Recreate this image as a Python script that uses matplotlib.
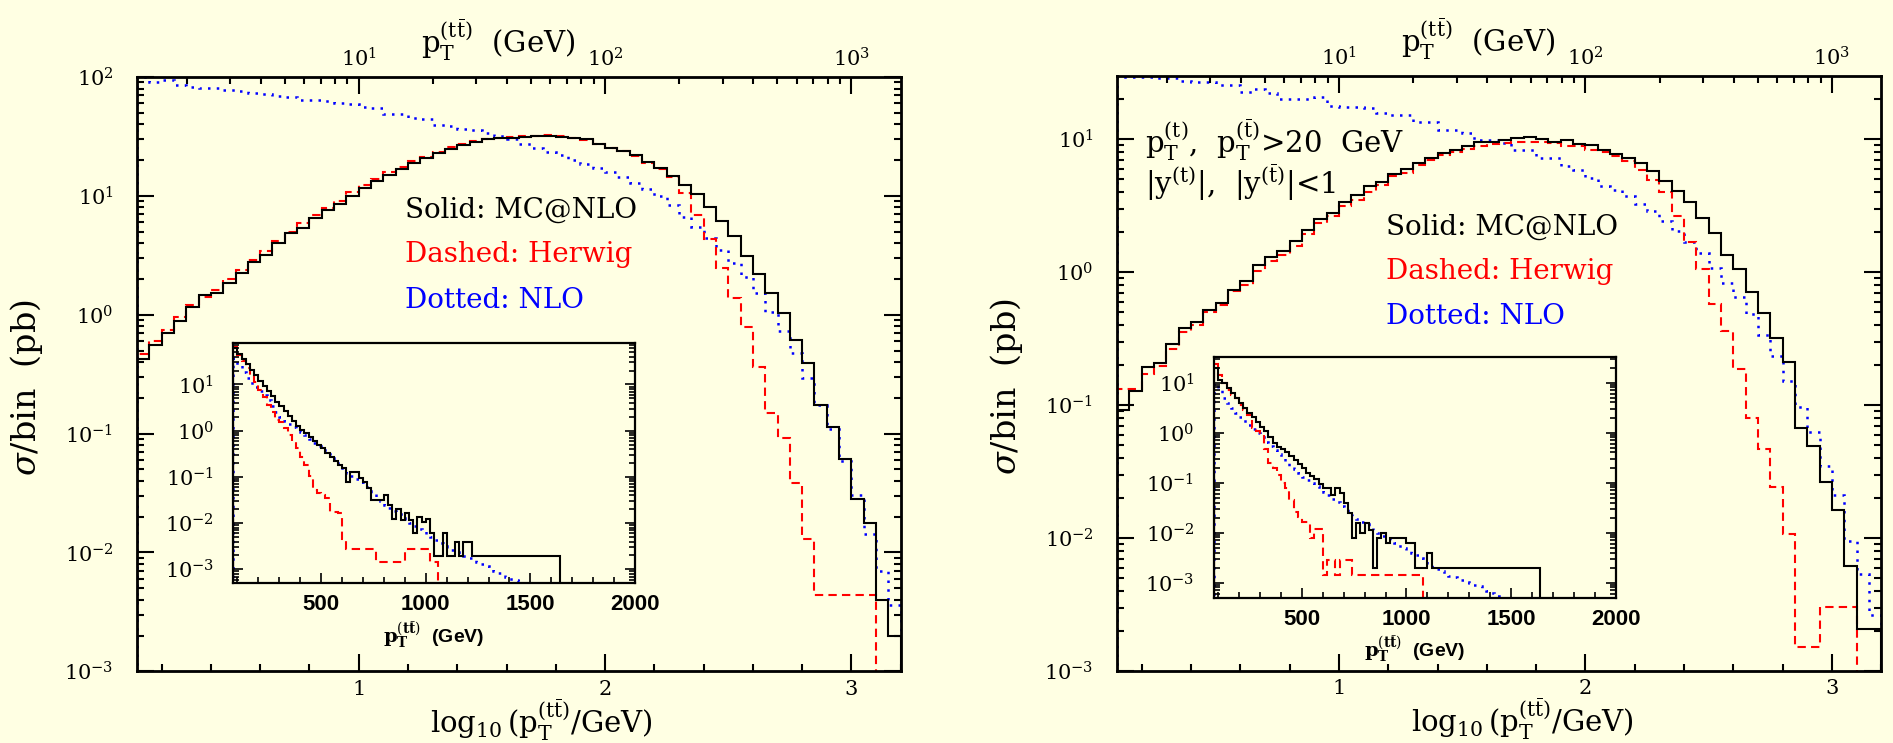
import numpy as np
import matplotlib
matplotlib.use('Agg')
import matplotlib.pyplot as plt
from matplotlib.ticker import MultipleLocator, FixedLocator, FuncFormatter

# ---- data: log10(sigma/bin [pb]) in bins of 0.05 in log10(pT), starting at 0.10 ----
main_lo, main_w = 0.10, 0.05

left_mcnlo = [-0.374, -0.254, -0.150, -0.050, 0.063, 0.164, 0.181, 0.270, 0.349, 0.441,
              0.503, 0.606, 0.685, 0.733, 0.812, 0.881, 0.932, 1.002, 1.064, 1.125,
              1.176, 1.224, 1.274, 1.316, 1.358, 1.394, 1.426, 1.456, 1.476, 1.485,
              1.490, 1.495, 1.500, 1.505, 1.495, 1.485, 1.476, 1.437, 1.406, 1.378,
              1.341, 1.288, 1.237, 1.170, 1.089, 1.013, 0.904, 0.789, 0.663, 0.494,
              0.343, 0.186, 0.013, -0.212, -0.408, -0.756, -0.944, -1.210, -1.549, -1.751,
              -2.401, -2.704]
left_herwig = [-0.33, -0.22, -0.13, -0.02, 0.08, 0.15, 0.21, 0.30, 0.38, 0.46,
               0.54, 0.62, 0.70, 0.77, 0.84, 0.90, 0.96, 1.03, 1.09, 1.14,
               1.20, 1.245, 1.29, 1.33, 1.37, 1.41, 1.44, 1.465, 1.48, 1.49,
               1.495, 1.50, 1.505, 1.51, 1.505, 1.49, 1.47, 1.435, 1.40, 1.375,
               1.335, 1.28, 1.23, 1.16, 1.021, 0.839, 0.635, 0.396, 0.139, -0.105,
               -0.439, -0.826, -1.036, -1.415, -1.886, -2.354, -2.354, -2.354, -2.354, -2.354]
left_nlo = [2.00, 1.96, 1.975, 1.935, 1.915, 1.91, 1.905, 1.89, 1.885, 1.865,
            1.86, 1.84, 1.835, 1.81, 1.805, 1.80, 1.78, 1.775, 1.745, 1.74,
            1.69, 1.685, 1.655, 1.65, 1.60, 1.59, 1.56, 1.55, 1.53, 1.50,
            1.475, 1.44, 1.40, 1.372, 1.34, 1.30, 1.27, 1.232, 1.20, 1.161,
            1.106, 1.06, 1.00, 0.923, 0.825, 0.741, 0.643, 0.545, 0.433, 0.321,
            0.181, 0.026, -0.136, -0.321, -0.532, -0.756, -0.960, -1.232, -1.513, -1.841,
            -2.152, -2.446]

right_mcnlo = [-1.036, -0.893, -0.713, -0.680, -0.538, -0.418, -0.373, -0.286, -0.236, -0.131,
               -0.068, 0.052, 0.112, 0.157, 0.237, 0.320, 0.402, 0.445, 0.524, 0.577,
               0.644, 0.677, 0.740, 0.775, 0.820, 0.857, 0.895, 0.920, 0.952, 0.975,
               0.982, 0.990, 1.007, 1.015, 1.000, 0.982, 0.990, 0.965, 0.957, 0.915,
               0.887, 0.857, 0.820, 0.757, 0.682, 0.607, 0.527, 0.407, 0.295, 0.132,
               0.025, -0.150, -0.305, -0.493, -0.678, -1.173, -1.311, -1.578, -1.786, -2.211,
               -2.683, -2.683]
right_herwig = [-0.88, -0.88, -0.77, -0.705, -0.58, -0.45, -0.40, -0.30, -0.25, -0.14,
                -0.10, 0.01, 0.08, 0.13, 0.20, 0.29, 0.37, 0.42, 0.495, 0.545,
                0.60, 0.657, 0.72, 0.745, 0.807, 0.845, 0.882, 0.907, 0.925, 0.952,
                0.965, 0.97, 0.975, 0.977, 0.975, 0.97, 0.95, 0.945, 0.92, 0.90,
                0.875, 0.832, 0.77, 0.695, 0.60, 0.425, 0.225, 0.025, -0.243, -0.443,
                -0.726, -1.098, -1.328, -1.616, -1.973, -2.816, -2.816, -2.521, -2.521, -2.521]
right_nlo = [1.47, 1.47, 1.465, 1.46, 1.457, 1.44, 1.432, 1.43, 1.41, 1.407,
             1.357, 1.375, 1.345, 1.30, 1.30, 1.30, 1.32, 1.25, 1.24, 1.24,
             1.235, 1.20, 1.18, 1.18, 1.13, 1.13, 1.07, 1.07, 1.045, 0.995,
             0.995, 0.97, 0.92, 0.92, 0.857, 0.857, 0.795, 0.77, 0.707, 0.645,
             0.62, 0.57, 0.515, 0.457, 0.382, 0.312, 0.225, 0.145, 0.032, -0.08,
             -0.188, -0.318, -0.475, -0.63, -0.816, -1.016, -1.203, -1.461, -1.678, -2.023,
             -2.273, -2.578]

# ---- insets: log10(sigma/bin) in 20 GeV bins of pT starting at 80 GeV ----
ins_lo, ins_w = 80, 20

left_ins_mcnlo = [1.78, 1.66, 1.56, 1.45, 1.32, 1.20, 1.07, 0.96, 0.85, 0.74,
                  0.63, 0.53, 0.42, 0.31, 0.20, 0.11, 0.02, -0.06, -0.14, -0.22,
                  -0.30, -0.38, -0.48, -0.56, -0.66, -0.74, -0.80, -1.10, -0.90, -0.90,
                  -1.03, -1.12, -1.25, -1.50, -1.50, -1.50, -1.39, -1.61, -1.92, -1.70,
                  -1.93, -1.79, -1.93, -2.22, -1.86, -1.97, -1.92, -2.22, -2.70, -2.70,
                  -2.22, -2.70, -2.70, -2.41, -2.70, -2.41, -2.41, -2.70, -2.70, -2.70,
                  -2.70, -2.70, -2.70, -2.70, -2.70, -2.70, -2.70, -2.70, -2.70, -2.70,
                  -2.70, -2.70, -2.70, -2.70, -2.70, -2.70, -2.70, -2.70]
left_ins_herwig = [1.80, 1.64, 1.50, 1.36, 1.20, 1.05, 0.88, 0.72, 0.55, 0.40,
                   0.24, 0.18, 0.05, -0.10, -0.25, -0.38, -0.56, -0.74, -0.99, -1.28,
                   -1.35, -1.39, -1.46, -1.75, -1.75, -1.79, -2.35, -2.55, -2.55, -2.55,
                   -2.55, -2.55, -2.55, -2.55, -2.84, -2.84, -2.84, -2.84, -2.84, -2.84,
                   -2.84, -2.55, -2.55, -2.55, -2.55, -2.55, -2.55, -2.84, -2.84]
left_ins_nlo = [1.58, 1.42, 1.28, 1.15, 1.04, 0.94, 0.86, 0.78, 0.66, 0.54,
                0.41, 0.29, 0.21, 0.15, 0.09, 0.03, -0.02, -0.10, -0.18, -0.26,
                -0.33, -0.41, -0.50, -0.60, -0.69, -0.76, -0.84, -0.91, -0.97, -1.05,
                -1.12, -1.22, -1.30, -1.37, -1.45, -1.53, -1.60, -1.67, -1.74, -1.81,
                -1.88, -1.94, -2.00, -2.06, -2.12, -2.18, -2.24, -2.30, -2.37, -2.44,
                -2.50, -2.55, -2.59, -2.63, -2.66, -2.70, -2.75, -2.80, -2.84, -2.88,
                -2.93, -2.98, -3.03, -3.08, -3.13, -3.17, -3.20, -3.23, -3.26, -3.29, -3.32]

right_ins_mcnlo = [1.30, 1.05, 1.00, 0.90, 0.80, 0.70, 0.59, 0.49, 0.40, 0.31,
                   0.22, 0.12, 0.04, -0.08, -0.20, -0.29, -0.33, -0.38, -0.47, -0.55,
                   -0.63, -0.70, -0.80, -0.86, -0.93, -1.02, -1.11, -1.11, -1.25, -1.11,
                   -1.21, -1.41, -1.61, -2.11, -1.81, -2.01, -1.81, -1.94, -2.71, -2.11,
                   -2.01, -2.21, -2.11, -2.11, -2.11, -2.11, -2.21, -2.21, -2.71, -2.71,
                   -2.71, -2.40, -2.71, -2.71, -2.71, -2.71, -2.71, -2.71, -2.71, -2.71,
                   -2.71, -2.71, -2.71, -2.71, -2.71, -2.71, -2.71, -2.71, -2.71, -2.71,
                   -2.71, -2.71, -2.71, -2.71, -2.71, -2.71, -2.71, -2.71]
right_ins_herwig = [1.38, 1.15, 1.00, 0.85, 0.76, 0.70, 0.55, 0.45, 0.36, 0.10,
                    0.04, -0.05, -0.32, -0.61, -0.71, -0.85, -1.00, -1.10, -1.35, -1.58,
                    -1.68, -1.78, -1.78, -2.11, -1.93, -1.93, -2.84, -2.54, -2.54, -2.84,
                    -2.54, -2.54, -2.54, -2.84, -2.84, -2.84, -2.84, -2.84, -2.84, -2.84,
                    -2.84, -2.84, -2.84, -2.84, -2.84, -2.84, -2.84, -2.84, -2.84, -2.84]
right_ins_nlo = [1.00, 0.88, 0.69, 0.59, 0.50, 0.40, 0.32, 0.24, 0.15, 0.08,
                 0.00, -0.09, -0.18, -0.27, -0.35, -0.43, -0.51, -0.58, -0.66, -0.73,
                 -0.80, -0.88, -0.94, -1.00, -1.06, -1.13, -1.19, -1.25, -1.32, -1.39,
                 -1.46, -1.53, -1.60, -1.66, -1.72, -1.78, -1.83, -1.89, -1.95, -2.00,
                 -2.06, -2.11, -2.16, -2.21, -2.27, -2.30, -2.35, -2.40, -2.45, -2.50,
                 -2.56, -2.62, -2.68, -2.73, -2.77, -2.82, -2.86, -2.89, -2.92, -2.95,
                 -2.98, -3.01, -3.04, -3.07, -3.11, -3.16, -3.21, -3.26, -3.30, -3.34, -3.37]

labels = ['Solid: MC@NLO', 'Dashed: Herwig', 'Dotted: NLO']
label_colors = ['black', 'red', 'blue']

W, H = 1893, 743
BG = '#ffffe3'
plt.rcParams['font.family'] = 'DejaVu Serif'
plt.rcParams['mathtext.fontset'] = 'dejavuserif'

SOLID = dict(edgecolor='black', linewidth=1.5)
DASH = dict(edgecolor='red', linewidth=1.5, linestyle=(0, (4, 2.5)))
DOT = dict(edgecolor='blue', linewidth=1.8, linestyle=(0, (1, 2.5)))

PT = r'\mathrm{p}_\mathrm{T}^{(\mathrm{t}\bar{\mathrm{t}})}'


def box(x0, y0, x1, y1):
    return [x0 / W, 1 - y1 / H, (x1 - x0) / W, (y1 - y0) / H]


def hist(ax, lo, width, logvals, style):
    edges = lo + width * np.arange(len(logvals) + 1)
    ax.stairs(10.0 ** np.array(logvals), edges, baseline=1e-9, **style)


fig = plt.figure(figsize=(W / 100, H / 100), dpi=100, facecolor=BG)


def panel(mbox, ibox, ytop, iytop, blk, red, blu, iblk, ired, iblu, leg_xy):
    ax = fig.add_axes(box(*mbox))
    ax.set_facecolor(BG)
    hist(ax, main_lo, main_w, blu, DOT)
    hist(ax, main_lo, main_w, red, DASH)
    hist(ax, main_lo, main_w, blk, SOLID)
    ax.set_yscale('log')
    ax.set_xlim(0.1, 3.2)
    ax.set_ylim(1e-3, ytop)
    ax.xaxis.set_major_locator(MultipleLocator(1))
    ax.xaxis.set_minor_locator(MultipleLocator(0.2))
    ax.xaxis.set_major_formatter(FuncFormatter(lambda v, p: '%d' % v))
    ax.tick_params(which='both', direction='in', top=False, right=True, width=1.5, labelsize=15)
    ax.tick_params(which='major', length=12)
    ax.tick_params(which='minor', length=5)
    ax.tick_params(axis='y', pad=17)
    ax.tick_params(axis='x', pad=6)
    for s in ax.spines.values():
        s.set_linewidth(2)
    ax.set_xlabel(r'$\log_{10}(' + PT + r'/\mathrm{GeV})$', fontsize=21, va='bottom')
    ax.xaxis.set_label_coords(0.53, -0.12)
    ax.set_ylabel(r'$\sigma$/bin  (pb)', fontsize=24)
    ax.yaxis.set_label_coords(-0.12, 0.478)

    top = ax.twiny()
    top.set_xscale('log')
    top.set_xlim(10 ** 0.1, 10 ** 3.2)
    top.tick_params(which='both', direction='in', width=1.5, labelsize=15, pad=5)
    top.tick_params(which='major', length=12)
    top.tick_params(which='minor', length=5)
    top.set_xlabel('$' + PT + r'$  (GeV)', fontsize=21)
    top.xaxis.set_label_coords(0.473, 1.04)

    lx, ly = leg_xy
    for i, (t, c) in enumerate(zip(labels, label_colors)):
        fig.text(lx / W, 1 - (ly + 45 * i) / H, t, color=c, fontsize=20, va='center')

    ins = fig.add_axes(box(*ibox))
    ins.set_facecolor(BG)
    hist(ins, ins_lo, ins_w, iblu, DOT)
    hist(ins, ins_lo, ins_w, ired, DASH)
    hist(ins, ins_lo, ins_w, iblk, SOLID)
    ins.set_yscale('log')
    ins.set_xlim(80, 2000)
    ins.set_ylim(5e-4, iytop)
    ins.xaxis.set_major_locator(FixedLocator([500, 1000, 1500, 2000]))
    ins.xaxis.set_minor_locator(MultipleLocator(100))
    ins.tick_params(which='both', direction='in', right=True, top=False, width=1.2)
    ins.tick_params(which='major', length=7)
    ins.tick_params(which='minor', length=4)
    ins.tick_params(axis='y', labelsize=15, pad=14)
    ins.tick_params(axis='x', labelsize=16, pad=8, labelfontfamily='Liberation Sans')
    plt.setp(ins.get_xticklabels(), fontweight='bold')
    for s in ins.spines.values():
        s.set_linewidth(1.6)
    ins.set_xlabel(r'$\mathbf{p}_\mathbf{T}^{(\mathbf{t}\bar{\mathbf{t}})}$  (GeV)', fontsize=14,
                   fontweight='bold', family='Liberation Sans', labelpad=3)
    return ax


panel((137, 77, 900.7, 671.3), (233.3, 342.7, 635, 583.3), 100, 80,
      left_mcnlo, left_herwig, left_nlo,
      left_ins_mcnlo, left_ins_herwig, left_ins_nlo, (405, 210))
panel((1117, 76, 1881.3, 671), (1214, 357.3, 1615.7, 597.7), 10 ** 1.475, 32,
      right_mcnlo, right_herwig, right_nlo,
      right_ins_mcnlo, right_ins_herwig, right_ins_nlo, (1386, 227))

fig.text(1145 / W, 1 - 140 / H, r'$\mathrm{p}_\mathrm{T}^{(\mathrm{t})}$,  '
         r'$\mathrm{p}_\mathrm{T}^{(\bar{\mathrm{t}})}$>20  GeV', fontsize=21, va='center')
fig.text(1145 / W, 1 - 183 / H, r'$|\mathrm{y}^{(\mathrm{t})}|$,  '
         r'$|\mathrm{y}^{(\bar{\mathrm{t}})}|$<1', fontsize=21, va='center')

fig.savefig('out.png', dpi=100, facecolor=BG)
